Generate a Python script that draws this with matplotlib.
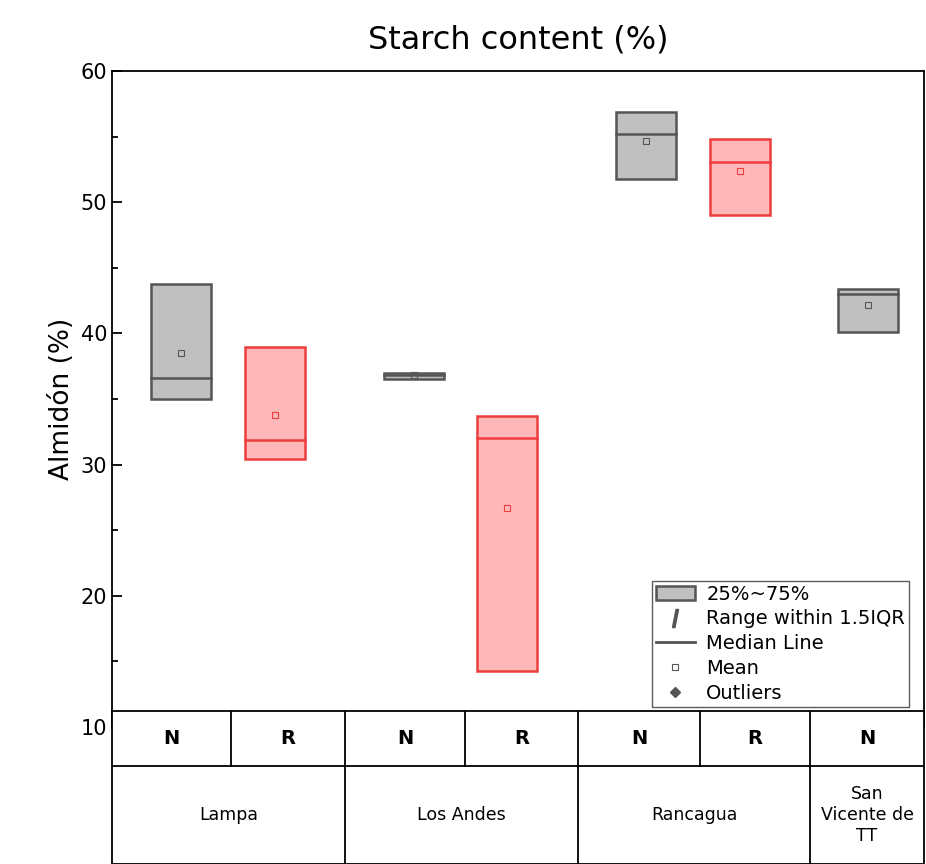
import matplotlib.pyplot as plt
from matplotlib.patches import Rectangle, Patch
from matplotlib.lines import Line2D

sites = ["Lampa", "Lampa", "Los Andes", "Los Andes", "Rancagua", "Rancagua", "San Vicente de TT"]
groups = ["N", "R", "N", "R", "N", "R", "N"]
q1 = [35.0, 30.4, 36.5, 14.3, 51.8, 49.0, 40.1]
q3 = [43.8, 39.0, 37.0, 33.7, 56.9, 54.8, 43.4]
median = [36.6, 31.9, 36.8, 32.0, 55.2, 53.1, 43.0]
mean = [38.5, 33.8, 36.8, 26.7, 54.7, 52.4, 42.2]

# layout (pixel-like x units)
centers = [181, 275, 414, 507, 646, 740, 868]
cell_edges = [112, 231, 345, 465, 578, 700, 810, 924]
site_edges = [112, 345, 578, 810, 924]
site_names = ["Lampa", "Los Andes", "Rancagua", "San\nVicente de\nTT"]
box_w = 60

styles = {"N": ("#c0c0c0", "#555555"), "R": ("#ffb8ba", "#ee3d3d")}

fig = plt.figure(figsize=(9.26, 8.64), dpi=100)
ax = fig.add_axes([112/926, 1-727/864, 812/926, 656/864])
for c, g, a, b, m, mu in zip(centers, groups, q1, q3, median, mean):
    fc, ec = styles[g]
    ax.add_patch(Rectangle((c - box_w/2, a), box_w, b - a, facecolor=fc, edgecolor=ec, lw=1.8))
    ax.plot([c - box_w/2, c + box_w/2], [m, m], color=ec, lw=1.8)
    ax.plot(c, mu, marker="s", ms=5, mfc="none", mec=ec, mew=0.8)

ax.set_xlim(112, 924)
ax.set_ylim(10, 60)
ax.set_xticks([])
ax.set_yticks(range(10, 61, 10))
ax.set_yticks(range(15, 60, 10), minor=True)
ax.tick_params(axis="y", which="both", direction="in", labelsize=15, length=7, width=1.3)
ax.tick_params(axis="y", which="minor", length=4)
for s in ax.spines.values():
    s.set_linewidth(1.3)
ax.set_ylabel("Almidón (%)", fontsize=19)
ax.set_title("Starch content (%)", fontsize=23, pad=16)

handles = [
    Patch(facecolor="#c0c0c0", edgecolor="#555555", lw=1.8),
    Line2D([], [], color="#555555", marker="$I$", ms=13, ls="none"),
    Line2D([], [], color="#555555", lw=2),
    Line2D([], [], color="#555555", marker="s", ms=5, mfc="none", ls="none", mew=0.8),
    Line2D([], [], color="#555555", marker="D", ms=5, ls="none"),
]
labels = ["25%~75%", "Range within 1.5IQR", "Median Line", "Mean", "Outliers"]
fig.legend(handles, labels, loc="upper left", bbox_to_anchor=(642/926, 1-571/864),
           fontsize=14, frameon=True, fancybox=False, edgecolor="#333333",
           borderpad=0.2, labelspacing=0.3, handlelength=2.0, handletextpad=0.6)

# category table
tb = fig.add_axes([112/926, 0, 812/926, 153/864], zorder=5)
tb.set_xlim(112, 924)
tb.set_ylim(0, 1)
tb.set_facecolor("white")
tb.set_xticks([])
tb.set_yticks([])
for s in tb.spines.values():
    s.set_linewidth(1.3)
row = 1 - 55/153
tb.axhline(row, color="black", lw=1.3)
for x in cell_edges[1:-1]:
    tb.plot([x, x], [row, 1], color="black", lw=1.3)
for x in site_edges[1:-1]:
    tb.plot([x, x], [0, row], color="black", lw=1.3)
for i, g in enumerate(groups):
    tb.text((cell_edges[i] + cell_edges[i+1]) / 2, (1 + row) / 2, g,
            ha="center", va="center", fontsize=14, fontweight="bold")
for i, n in enumerate(site_names):
    tb.text((site_edges[i] + site_edges[i+1]) / 2, row - 0.32, n,
            ha="center", va="center", fontsize=12.5, linespacing=1.2)

fig.savefig("out.png", dpi=100)
